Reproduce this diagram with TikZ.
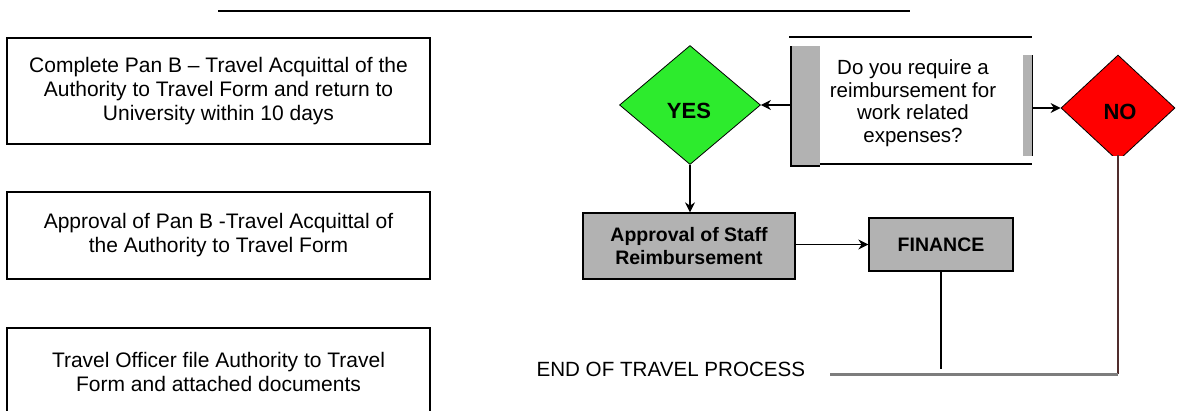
\documentclass[tikz,border=0pt]{standalone}
\usepackage{fontspec}
\setmainfont{Liberation Sans}
\usetikzlibrary{shapes.geometric,arrows.meta}
\definecolor{yesgreen}{RGB}{45,235,45}
\definecolor{nored}{RGB}{255,0,0}
\definecolor{boxgray}{RGB}{178,178,178}
\definecolor{barline}{RGB}{125,125,125}
\definecolor{noline}{RGB}{80,45,45}

\begin{document}
\begin{tikzpicture}[x=1pt,y=-1pt,
    leftbox/.style={draw, line width=1.2pt, minimum width=423pt, inner sep=0pt, align=center,
        font=\fontsize{21}{24}\selectfont},
    choice/.style={diamond, draw, line width=0.8pt, inner sep=0pt, font=\bfseries\fontsize{22}{24}\selectfont},
    graybox/.style={draw, line width=1.3pt, fill=boxgray, inner sep=0pt, align=center,
        font=\bfseries\fontsize{19.5}{23}\selectfont},
    arr/.style={line width=1.2pt, -{Stealth[length=10pt,width=10pt]}}]
                \clip (0,0) rectangle (1177,410);
                \draw [line width=1.8pt] (218,11) -- (910,11);

                \node [leftbox, minimum height=106pt] (complete) at (218.5,91)
                    {Complete Pan B -- Travel Acquittal of the\\Authority to Travel Form and return to\\University within 10 days};
                \node [leftbox, minimum height=87pt] (approval) at (218.5,235.5)
                    {Approval of Pan B -Travel Acquittal of\\the Authority to Travel Form};
                \node [leftbox, minimum height=87pt] (filing) at (218.5,371.5)
                    {Travel Officer file Authority to Travel\\Form and attached documents};

                \fill [boxgray] (791,46) rectangle (820,166);
                \draw [line width=1.3pt] (791,46) -- (791,166) -- (820,166);
                \fill [boxgray] (1023,55) rectangle (1032,156);
                \draw [line width=1pt] (1032,55) -- (1032,156);
                \draw [line width=1.3pt] (789,37) -- (1032,37);
                \draw [line width=1.3pt] (820,164) -- (1032,164);
                \node [align=center, font=\fontsize{20.5}{22.5}\selectfont] (question) at (913,103)
                    {Do you require a\\reimbursement for\\work related\\expenses?};
                \coordinate (qleft) at (791,105);
                \coordinate (qright) at (1032,108);

                \node [choice, fill=yesgreen, minimum width=141pt, minimum height=119pt] (yes) at (690,105) {};
                \node [font=\bfseries\fontsize{22}{24}\selectfont] at (689,111) {YES};
                \begin{scope}
                    \clip (1040,40) rectangle (1177,155);
                    \node [choice, fill=nored, minimum width=114pt, minimum height=106pt] (no) at (1118,108) {};
                \end{scope}
                \node [font=\bfseries\fontsize{22}{24}\selectfont] at (1120,112) {NO};

                \node [graybox, minimum width=212pt, minimum height=66pt, text depth=0pt] (staff) at (689,246)
                    {Approval of Staff\\Reimbursement};
                \node [graybox, minimum width=144pt, minimum height=53pt] (finance) at (941,244.5) {FINANCE};

                \node [anchor=west, font=\fontsize{20.6}{24}\selectfont] (endtext) at (533,369) {END OF TRAVEL PROCESS};
                \coordinate (nocut) at (1118,155);
                \coordinate (endright) at (1118,374);
                \coordinate (endleft) at (830,374);
                \coordinate (finfoot) at (938,369);

                \draw [arr] (qleft) -- (yes.east);
                \draw [arr] (qright) -- (no.west);
                \draw [arr] (yes.south) -- (yes.south |- staff.north);
                \draw [arr] (staff.east |- finance) -- (finance.west);
                \draw [line width=1.2pt] (finance.south) -- (finance.south |- finfoot);
                \draw [noline, line width=1.3pt] (nocut) -- (endright);
                \draw [barline, line width=3pt] (endleft) -- (endright);
            \end{tikzpicture}
\end{document}
